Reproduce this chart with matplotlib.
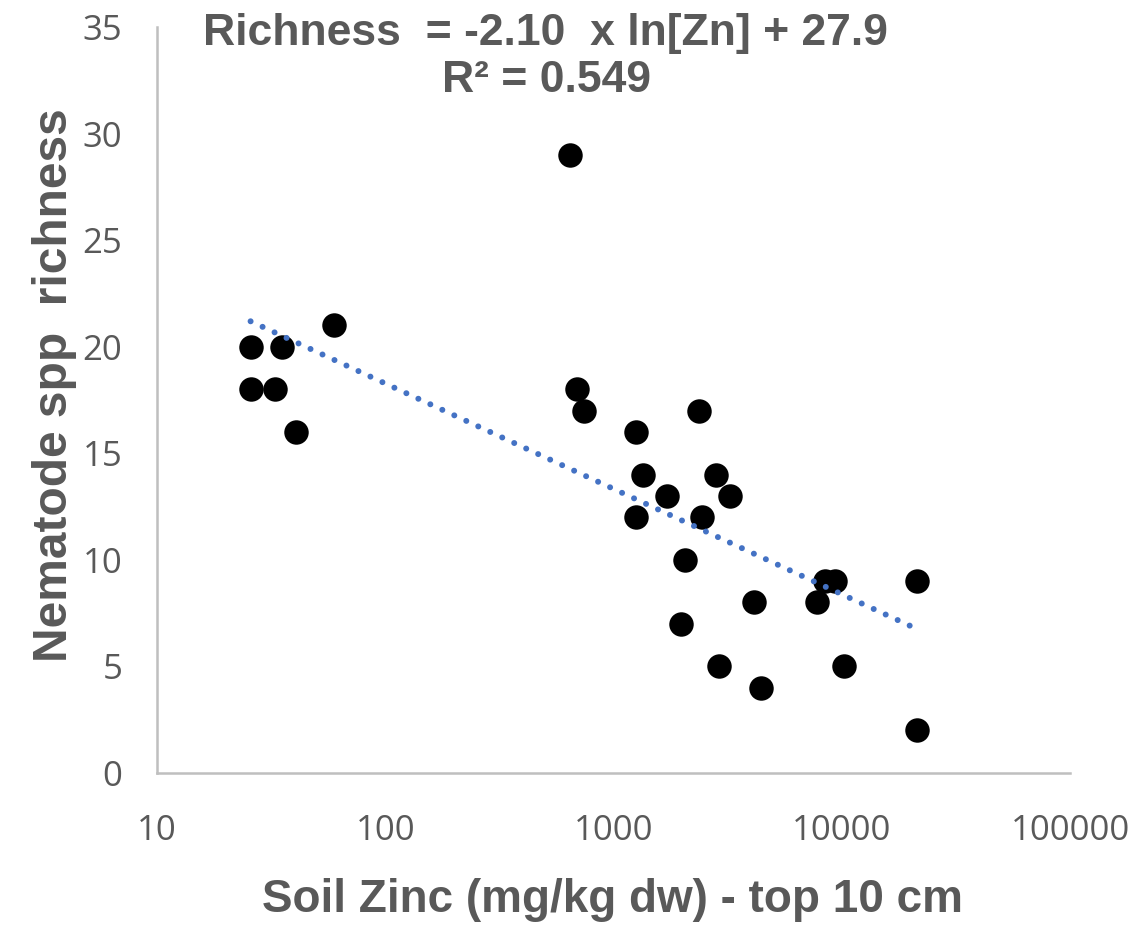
import matplotlib
matplotlib.use("Agg")
import matplotlib.pyplot as plt
import numpy as np

# soil zinc (mg/kg dw) and nematode species richness
zinc = [25.7, 35.3, 59.8, 25.7, 33.0, 40.8,
        647, 692, 743, 1255, 2362,
        1347, 1721, 1255, 2812, 3237, 2449,
        2051, 1976, 4147, 2907, 4428,
        7763, 8443, 9334, 21430, 10260, 21430]
richness = [20, 20, 21, 18, 18, 16,
            29, 18, 17, 16, 17,
            14, 13, 12, 14, 13, 12,
            10, 7, 8, 5, 4,
            8, 9, 9, 9, 5, 2]

x_ticks = [10, 100, 1000, 10000, 100000]
y_ticks = [0, 5, 10, 15, 20, 25, 30, 35]

eq_text = "Richness  = -2.10  x ln[Zn] + 27.9"
r2_text = "R² = 0.549"

grey = "#595959"
tick_font = ["Open Sans", "DejaVu Sans"]
bold_font = ["Liberation Sans", "DejaVu Sans"]

fig = plt.figure(figsize=(11.43, 9.26), dpi=100)
ax = fig.add_axes([157 / 1143, 1 - 773 / 926, (1070 - 157) / 1143, (773 - 27) / 926])

# logarithmic trendline fitted to the points
zn = np.array(zinc)
rich = np.array(richness)
slope, intercept = np.polyfit(np.log(zn), rich, 1)
xs = np.logspace(np.log10(zn.min()), np.log10(zn.max()), 200)
ax.plot(xs, slope * np.log(xs) + intercept, color="#4472C4", linewidth=4.3,
        dashes=(0.01, 2.2), dash_capstyle="round", zorder=3)

ax.scatter(zn, rich, s=310, color="black", zorder=2, linewidths=0)

ax.set_xscale("log")
ax.set_xlim(10, 100000)
ax.set_ylim(0, 35)
ax.set_xticks(x_ticks)
ax.set_xticklabels([str(t) for t in x_ticks])
ax.set_yticks(y_ticks)
ax.set_yticklabels([str(t) for t in y_ticks])
ax.minorticks_off()
ax.tick_params(length=0, labelsize=25, labelcolor=grey, pad=0)
ax.tick_params(axis="x", pad=29.5)
ax.tick_params(axis="y", pad=25)
for lab in ax.get_xticklabels() + ax.get_yticklabels():
    lab.set_family(tick_font)

for side in ["top", "right"]:
    ax.spines[side].set_visible(False)
for side in ["left", "bottom"]:
    ax.spines[side].set_color("#BFBFBF")
    ax.spines[side].set_linewidth(1.8)

fig.text(612 / 1143, 1 - 900 / 926, "Soil Zinc (mg/kg dw) - top 10 cm", ha="center", va="center",
         fontsize=33, fontweight="bold", color=grey, family=bold_font)
fig.text(55 / 1143, 1 - 385 / 926, "Nematode spp  richness", ha="center", va="center", rotation=90,
         fontsize=34.5, fontweight="bold", color=grey, family=bold_font)

fig.text(545 / 1143, 1 - 33 / 926, eq_text, ha="center", va="center",
         fontsize=32, fontweight="bold", color=grey, family=bold_font)
fig.text(546 / 1143, 1 - 80 / 926, r2_text, ha="center", va="center",
         fontsize=32, fontweight="bold", color=grey, family=bold_font)

fig.savefig("out.png", dpi=100)
